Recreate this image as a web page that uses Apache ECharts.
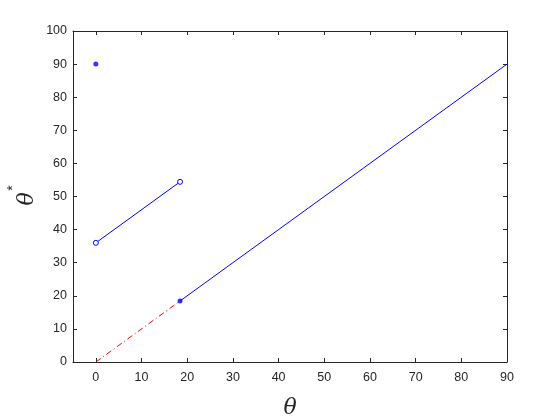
<!DOCTYPE html>
<html><head><meta charset="utf-8">
<script src="https://cdn.jsdelivr.net/npm/echarts@6/dist/echarts.min.js"></script>
<style>html,body{margin:0;padding:0;background:#fff}#c{width:560px;height:420px}</style>
</head><body><div id="c"></div>
<script>
// Data
const xTicks = [0,10,20,30,40,50,60,70,80,90];
const yTicks = [0,10,20,30,40,50,60,70,80,90,100];
const isolatedX = [0];
const isolatedY = [90];
const upperX = [0, 18.43];
const upperY = [36, 54.43];
const lowerBlueX = [18.43, 90];
const lowerBlueY = [18.43, 90];
const redX = [0, 18.43];
const redY = [0, 18.43];
const jumpX = [18.43];
const jumpY = [18.43];
const xName = 'θ';
const yName = 'θ';
const yNameSup = '*';

const zip = (a,b) => a.map((v,i)=>[v,b[i]]);
const axisColor = '#262626';
const font = 'Helvetica, Arial, "Liberation Sans", sans-serif';
const serif = '"DejaVu Serif", "Liberation Serif", serif';

const chart = echarts.init(document.getElementById('c'), null, {renderer:'canvas'});
const xBase = {
  type:'value', min:-5, max:90,
  axisLine:{show:true, onZero:false, lineStyle:{color:axisColor, width:1}},
  axisTick:{show:true, inside:true, length:4, customValues:xTicks, lineStyle:{color:axisColor}},
  splitLine:{show:false}
};
const yBase = {
  type:'value', min:0, max:100, interval:10,
  axisLine:{show:true, onZero:false, lineStyle:{color:axisColor, width:1}},
  axisTick:{show:true, inside:true, length:4, lineStyle:{color:axisColor}},
  splitLine:{show:false}
};
chart.setOption({
  animation:false,
  grid:{left:73, right:53, top:31, bottom:58, containLabel:false, outerBoundsMode:'none'},
  xAxis:[
    Object.assign({}, xBase, {position:'bottom',
      axisLabel:{show:true, customValues:xTicks, color:axisColor, fontSize:12.5, fontFamily:font, margin:9},
      name:xName, nameLocation:'middle', nameGap:35,
      nameTextStyle:{fontFamily:serif, fontStyle:'italic', fontSize:22, color:axisColor}}),
    Object.assign({}, xBase, {position:'top', axisLabel:{show:false}})
  ],
  yAxis:[
    Object.assign({}, yBase, {position:'left',
      axisLabel:{show:true, color:axisColor, fontSize:12.5, fontFamily:font, margin:6}}),
    Object.assign({}, yBase, {position:'right', axisLabel:{show:false}})
  ],
  graphic:[
    {type:'text', x:27, y:199, rotation:Math.PI/2,
      style:{text:yName, font:'italic 22px ' + serif, fill:axisColor, align:'center', verticalAlign:'middle'}},
    {type:'text', x:13, y:188, rotation:Math.PI/2,
      style:{text:yNameSup, font:'14px ' + font, fill:axisColor, align:'center', verticalAlign:'middle'}}
  ],
  series:[
    {type:'line', data:zip(redX, redY), symbol:'none', lineStyle:{color:'#ff0000', width:1, type:[6,3,1,3]}},
    {type:'line', data:zip(lowerBlueX, lowerBlueY), symbol:'none', lineStyle:{color:'#0000ff', width:1}},
    {type:'line', data:zip(upperX, upperY), symbol:'circle', symbolSize:5, showAllSymbol:true,
      itemStyle:{color:'#ffffff', borderColor:'#0000ff', borderWidth:1}, lineStyle:{color:'#0000ff', width:1}},
    {type:'scatter', data:zip(isolatedX, isolatedY), symbol:'circle', symbolSize:5, itemStyle:{color:'#0000ff'}},
    {type:'scatter', data:zip(jumpX, jumpY), symbol:'circle', symbolSize:5, itemStyle:{color:'#0000ff'}}
  ]
});
</script></body></html>
